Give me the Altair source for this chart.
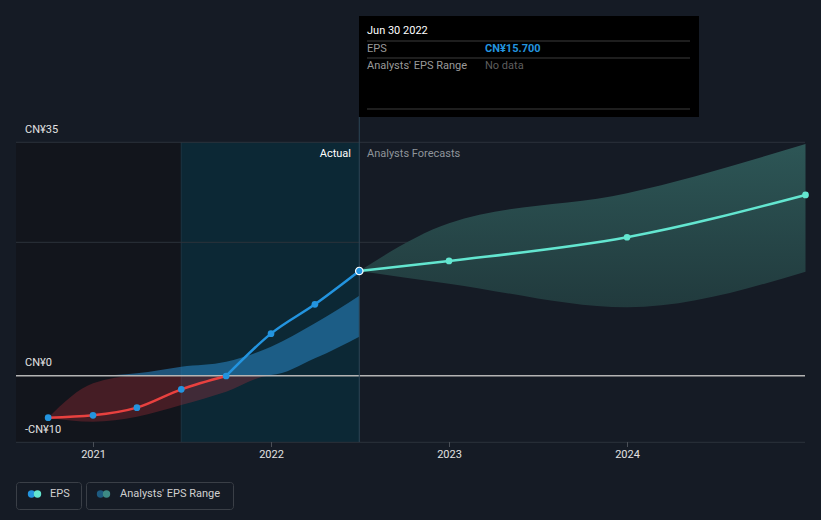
import altair as alt
import pandas as pd

# ---------------- data ----------------
act_dates = ["2020-09-30", "2020-12-31", "2021-03-31", "2021-06-30",
             "2021-09-30", "2021-12-31", "2022-03-31", "2022-06-30"]
act_eps = [-6.3, -5.95, -4.8, -2.05, -0.05, 6.3, 10.7, 15.7]
past_hi = [-6.3, -1.15, 0.35, 1.35, 2.1, 4.35, 7.85, 12.0]
past_lo = [-6.3, -6.9, -6.15, -4.4, -2.4, 0.1, 2.6, 5.85]

fc_dates = ["2022-06-30", "2022-12-31", "2023-12-31", "2024-12-31"]
fc_eps = [15.7, 17.2, 20.76, 27.1]
fc_hi = [15.7, 22.85, 27.35, 34.75]
fc_lo = [15.7, 13.8, 10.25, 15.6]

y_label_vals = [35, 0, -10]
y_label_txt = ["CN¥35", "CN¥0", "-CN¥10"]
grid_vals = [35, 20, -10]
zero_val = [0]
x_tick_dates = ["2021-01-01", "2022-01-01", "2023-01-01", "2024-01-01"]
x_tick_txt = ["2021", "2022", "2023", "2024"]

past_start, past_end = "2021-06-30", "2022-06-30"

# ---------------- tables ----------------
act = pd.DataFrame({"date": act_dates, "eps": act_eps, "hi": past_hi, "lo": past_lo})
red_seg = act.iloc[:5]
blue_seg = act.iloc[4:]
last_pt = act.iloc[[-1]]
fc = pd.DataFrame({"date": fc_dates, "eps": fc_eps, "hi": fc_hi, "lo": fc_lo})
ylab = pd.DataFrame({"v": y_label_vals, "t": y_label_txt})
grid = pd.DataFrame({"v": grid_vals})
zero = pd.DataFrame({"v": zero_val})
xt = pd.DataFrame({"date": x_tick_dates, "t": x_tick_txt})
region = pd.DataFrame({"s": [past_start], "e": [past_end]})
one = pd.DataFrame({"k": [0]})

# ---------------- scales (full canvas mapping) ----------------
px_per_day = 178 / 365.0
t0 = pd.Timestamp("2021-01-01") - pd.Timedelta(days=93.5 / px_per_day)
t1 = pd.Timestamp("2021-01-01") + pd.Timedelta(days=727.5 / px_per_day)
xscale = alt.Scale(type="utc", domain=[int(t0.value // 10**6), int(t1.value // 10**6)])
yscale = alt.Scale(domain=[-21.65, 56.34], nice=False, zero=False)

FONT = "Roboto"


def X(f):
    return alt.X(f"{f}:T", scale=xscale, axis=None)


def Y(f):
    return alt.Y(f"{f}:Q", scale=yscale, axis=None)


def txt(s, x, y, color, align="left", weight="normal"):
    return alt.Chart(one).mark_text(align=align, baseline="middle", font=FONT, fontSize=11,
                                    fontWeight=weight, color=color, text=s).encode(
        x=alt.value(x), y=alt.value(y))


def hrule(y, x1, x2, color):
    return alt.Chart(one).mark_rule(color=color, strokeWidth=1).encode(
        x=alt.value(x1), x2=alt.value(x2), y=alt.value(y))


def dot(x, y, color):
    return alt.Chart(one).mark_circle(color=color, size=55, opacity=1).encode(
        x=alt.value(x), y=alt.value(y))


def box(x1, x2, y1, y2, **kw):
    return alt.Chart(one).mark_rect(**kw).encode(
        x=alt.value(x1), x2=alt.value(x2), y=alt.value(y1), y2=alt.value(y2))


# ---------------- background regions ----------------
left_dark = alt.Chart(region).mark_rect(color="#12151c").encode(
    x=X("s"), x2=alt.value(16), y=alt.value(142), y2=alt.value(442))
past_box = alt.Chart(region).mark_rect(color="#0c2835").encode(
    x=X("s"), x2=alt.X2("e:T"), y=alt.value(142), y2=alt.value(442))
past_edge = alt.Chart(region).mark_rule(color="#1b3542", strokeWidth=1).encode(
    x=X("s"), y=alt.value(142), y2=alt.value(442))

gridlines = alt.Chart(grid).mark_rule(color="#2c323b", strokeWidth=1).encode(
    y=Y("v"), x=alt.value(16), x2=alt.value(805))
zero_line = alt.Chart(zero).mark_rule(color="#b4b4b4", strokeWidth=1.5).encode(
    y=Y("v"), x=alt.value(16), x2=alt.value(805))

crosshair = alt.Chart(region).mark_rule(color="#2d4656", strokeWidth=1).encode(
    x=X("e"), y=alt.value(117), y2=alt.value(442))

# ---------------- bands ----------------
past_red = alt.Chart(act).transform_calculate(
    a="min(datum.lo, 0)", b="min(datum.hi, 0)"
).mark_area(color="#c8323c", opacity=0.28, interpolate="monotone").encode(
    x=X("date"), y=Y("a"), y2="b:Q")
past_blue = alt.Chart(act).transform_calculate(
    a="max(datum.lo, 0)", b="max(datum.hi, 0)"
).mark_area(color="#2a88c8", opacity=0.55, interpolate="monotone").encode(
    x=X("date"), y=Y("a"), y2="b:Q")

fc_grad = alt.Gradient(
    gradient="linear",
    stops=[alt.GradientStop(color="#2d5656", offset=0),
           alt.GradientStop(color="#213a3d", offset=1)],
    x1=0, x2=0, y1=0, y2=1)
fc_band = alt.Chart(fc).mark_area(color=fc_grad, interpolate="monotone").encode(
    x=X("date"), y=Y("lo"), y2="hi:Q")

# ---------------- lines & points ----------------
red_line = alt.Chart(red_seg).mark_line(color="#e8413f", strokeWidth=2.5, interpolate="monotone").encode(
    x=X("date"), y=Y("eps"))
blue_line = alt.Chart(blue_seg).mark_line(color="#2394df", strokeWidth=2.5, interpolate="monotone").encode(
    x=X("date"), y=Y("eps"))
fc_line = alt.Chart(fc).mark_line(color="#63e6d0", strokeWidth=2.5, interpolate="monotone").encode(
    x=X("date"), y=Y("eps"))
act_pts = alt.Chart(act.iloc[:-1]).mark_circle(color="#2394df", size=45, opacity=1).encode(
    x=X("date"), y=Y("eps"))
fc_pts = alt.Chart(fc.iloc[1:]).mark_circle(color="#63e6d0", size=45, opacity=1).encode(
    x=X("date"), y=Y("eps"))
last = alt.Chart(last_pt).mark_point(shape="circle", filled=True, fill="#2394df", stroke="white",
                                     strokeWidth=1.2, size=55, opacity=1).encode(
    x=X("date"), y=Y("eps"))

# ---------------- axes text ----------------
ylabels = alt.Chart(ylab).mark_text(align="left", baseline="middle", dy=-12.5, font=FONT,
                                    fontSize=11, color="#e2e2e2").encode(
    x=alt.value(25), y=Y("v"), text="t:N")
xticks = alt.Chart(xt).mark_rule(color="#4a4f57").encode(
    x=X("date"), y=alt.value(442), y2=alt.value(447))
xlabels = alt.Chart(xt).mark_text(baseline="middle", font=FONT, fontSize=11, color="#e2e2e2").encode(
    x=X("date"), y=alt.value(455), text="t:N")

actual_txt = txt("Actual", 351, 154, "#ffffff", align="right")
fc_txt = txt("Analysts Forecasts", 367, 154, "#8f949a")

# ---------------- tooltip box ----------------
tip_box = box(359, 699, 16, 117, color="#000000")
tip_rules = [hrule(41, 367, 690, "#3c3c3c"), hrule(58, 367, 690, "#3c3c3c"), hrule(109, 367, 690, "#3c3c3c")]
tip_texts = [
    txt("Jun 30 2022", 367, 31, "#ffffff"),
    txt("EPS", 367, 49, "#9a9a9a"),
    txt("CN¥15.700", 485, 49, "#2394df", weight="bold"),
    txt("Analysts' EPS Range", 367, 66, "#9a9a9a"),
    txt("No data", 485, 66, "#5e5e5e"),
]

# ---------------- legend ----------------
legend = [
    box(16.5, 81.5, 482.5, 509.5, fillOpacity=0, stroke="#3a3f47", strokeWidth=1, cornerRadius=3),
    box(86.5, 233.5, 482.5, 509.5, fillOpacity=0, stroke="#3a3f47", strokeWidth=1, cornerRadius=3),
    dot(31.5, 494, "#2394df"), dot(37.5, 494, "#63e6d0"),
    dot(100.5, 494, "#1d5a80"), dot(106.5, 494, "#3d8a85"),
    txt("EPS", 50, 494, "#d0d0d0"),
    txt("Analysts' EPS Range", 120, 494, "#d0d0d0"),
]

chart = alt.layer(
    left_dark, past_box, past_edge, gridlines,
    past_red, past_blue, fc_band, zero_line, crosshair,
    red_line, blue_line, fc_line, act_pts, fc_pts, last,
    ylabels, xticks, xlabels, actual_txt, fc_txt,
    tip_box, *tip_rules, *tip_texts, *legend,
).properties(
    width=821, height=520,
    autosize=alt.AutoSizeParams(type="none"),
    padding=0,
    background="#151b25",
).configure_view(stroke=None)

chart.save("out.html", embed_options={"renderer": "svg", "actions": False})
